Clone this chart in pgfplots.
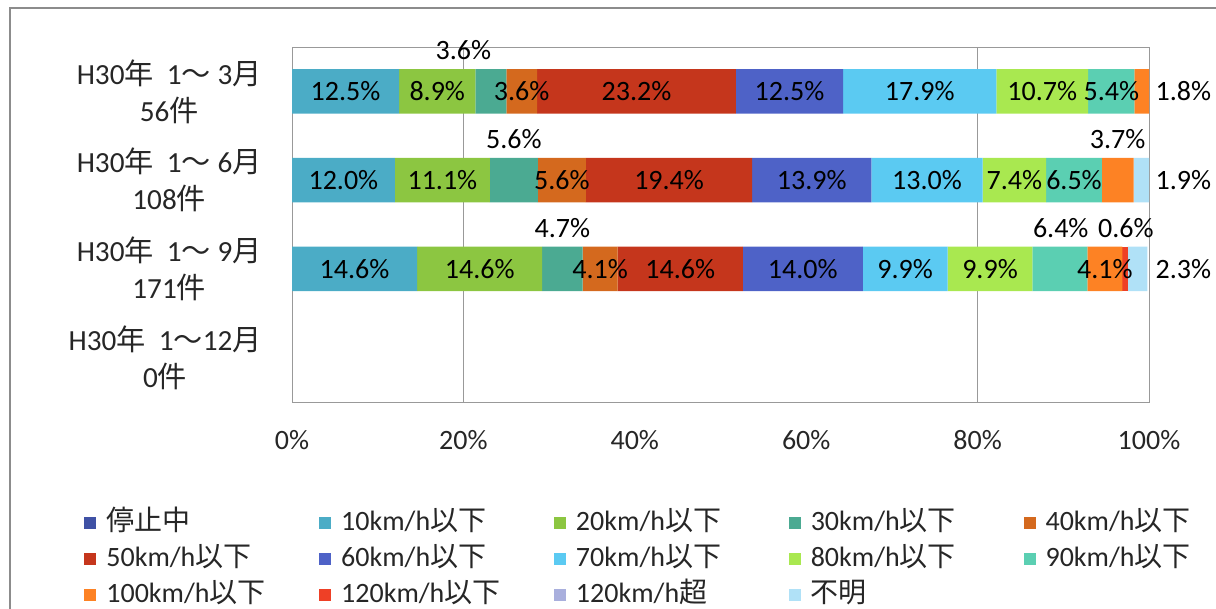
\documentclass[border=0pt]{standalone}
\usepackage{pgfplots}
\pgfplotsset{compat=1.18}
\usepackage{pgfplotstable}
\usepackage{fontspec}
\setmainfont{Carlito}
\newfontfamily\jp{Noto Sans CJK JP}
\newcommand\J[1]{{\jp #1}}

\definecolor{cA}{HTML}{3F51A5}
\definecolor{cB}{HTML}{4BACC6}
\definecolor{cC}{HTML}{8CC641}
\definecolor{cD}{HTML}{4BAA92}
\definecolor{cE}{HTML}{D4691E}
\definecolor{cF}{HTML}{C5361C}
\definecolor{cG}{HTML}{4E62C7}
\definecolor{cH}{HTML}{5BCAF2}
\definecolor{cI}{HTML}{A9E850}
\definecolor{cJ}{HTML}{5BCFB2}
\definecolor{cK}{HTML}{FD8224}
\definecolor{cL}{HTML}{EE4026}
\definecolor{cM}{HTML}{A9AFDD}
\definecolor{cN}{HTML}{B0E1F7}

\pgfplotsset{legsq/.style={legend image code/.code={\fill[#1] (0pt,-3pt) rectangle (6pt,3pt);}}}

% rows: y=3 -> 1-3月, y=2 -> 1-6月, y=1 -> 1-9月
\pgfplotstableread{
y s0 s1   s2   s3  s4  s5   s6   s7   s8   s9  s10 s11 s12 s13
3 0  12.5 8.9  3.6 3.6 23.2 12.5 17.9 10.7 5.4 1.8 0   0   0
2 0  12.0 11.1 5.6 5.6 19.4 13.9 13.0 7.4  6.5 3.7 0   0   1.9
1 0  14.6 14.6 4.7 4.1 14.6 14.0 9.9  9.9  6.4 4.1 0.6 0   2.3
}\bardata

\newcommand\LE[1]{\makebox[106.4pt][l]{#1}}

\begin{document}
\begin{tikzpicture}[font=\fontsize{14}{18.5}\selectfont]
\path[use as bounding box] (0,0) rectangle (608pt,304.5pt);
\draw[black!45, line width=0.75pt] (5pt,0) -- (5pt,300.5pt) -- (608pt,300.5pt);
\begin{axis}[
  at={(146pt,103.5pt)}, anchor=south west,
  scale only axis, width=428.5pt, height=177.5pt,
  xbar stacked, bar width=0.5,
  xmin=0, xmax=100, ymin=-0.5, ymax=3.5,
  axis line style={draw=black!40},
  xtick={0,20,40,60,80,100},
  xticklabels={0\%,20\%,40\%,60\%,80\%,100\%},
  extra x ticks={20,80}, extra x tick labels={},
  extra x tick style={grid=major, major grid style={draw=black!40}},
  ytick={0,1,2,3},
  yticklabels={
    {H30\J{年}\ \ 1\J{～}12\J{月}\\0\J{件}},
    {H30\J{年}\ \ 1\J{～}\ 9\J{月}\\171\J{件}},
    {H30\J{年}\ \ 1\J{～}\ 6\J{月}\\108\J{件}},
    {H30\J{年}\ \ 1\J{～}\ 3\J{月}\\56\J{件}}},
  major tick length=0pt,
  xticklabel style={anchor=base, inner sep=0pt, yshift=-24pt, text=black!85},
  yticklabel style={align=center, inner sep=0pt, xshift=-15pt, text=black!85,
    font=\fontsize{14.6}{18.5}\selectfont},
  legend columns=5, legend cell align=left,
  legend style={at={(-0.2427,-0.3042)}, anchor=north west, draw=none, fill=none,
    inner sep=0pt, row sep=5pt,
    /tikz/every odd column/.append style={column sep=5pt},
    nodes={inner sep=0pt, text height=10pt, text depth=3pt, text=black!85}},
]
\addplot[fill=cA, draw=none, legsq=cA] table[x=s0, y=y]{\bardata};
\addlegendentry{\LE{\J{停止中}}}
\addplot[fill=cB, draw=none, legsq=cB] table[x=s1, y=y]{\bardata};
\addlegendentry{\LE{10km/h\J{以下}}}
\addplot[fill=cC, draw=none, legsq=cC] table[x=s2, y=y]{\bardata};
\addlegendentry{\LE{20km/h\J{以下}}}
\addplot[fill=cD, draw=none, legsq=cD] table[x=s3, y=y]{\bardata};
\addlegendentry{\LE{30km/h\J{以下}}}
\addplot[fill=cE, draw=none, legsq=cE] table[x=s4, y=y]{\bardata};
\addlegendentry{\LE{40km/h\J{以下}}}
\addplot[fill=cF, draw=none, legsq=cF] table[x=s5, y=y]{\bardata};
\addlegendentry{\LE{50km/h\J{以下}}}
\addplot[fill=cG, draw=none, legsq=cG] table[x=s6, y=y]{\bardata};
\addlegendentry{\LE{60km/h\J{以下}}}
\addplot[fill=cH, draw=none, legsq=cH] table[x=s7, y=y]{\bardata};
\addlegendentry{\LE{70km/h\J{以下}}}
\addplot[fill=cI, draw=none, legsq=cI] table[x=s8, y=y]{\bardata};
\addlegendentry{\LE{80km/h\J{以下}}}
\addplot[fill=cJ, draw=none, legsq=cJ] table[x=s9, y=y]{\bardata};
\addlegendentry{\LE{90km/h\J{以下}}}
\addplot[fill=cK, draw=none, legsq=cK] table[x=s10, y=y]{\bardata};
\addlegendentry{\LE{100km/h\J{以下}}}
\addplot[fill=cL, draw=none, legsq=cL] table[x=s11, y=y]{\bardata};
\addlegendentry{\LE{120km/h\J{以下}}}
\addplot[fill=cM, draw=none, legsq=cM] table[x=s12, y=y]{\bardata};
\addlegendentry{\LE{120km/h\J{超}}}
\addplot[fill=cN, draw=none, legsq=cN] table[x=s13, y=y]{\bardata};
\addlegendentry{\LE{\J{不明}}}
\end{axis}
\begin{axis}[
  at={(146pt,103.5pt)}, anchor=south west,
  scale only axis, width=428.5pt, height=177.5pt,
  xmin=0, xmax=100, ymin=-0.5, ymax=3.5,
  hide axis, clip=false,
]
\addplot[draw=none, mark=none, nodes near coords, point meta=explicit symbolic,
  nodes near coords align=center,
  every node near coord/.append style={inner sep=0pt, text=black}]
coordinates {
 (6.25,3) [12.5\%] (16.95,3) [8.9\%] (20.0,3.466) [3.6\%] (26.8,3) [3.6\%]
 (40.2,3) [23.2\%] (58.05,3) [12.5\%] (73.25,3) [17.9\%] (87.55,3) [10.7\%]
 (95.6,3) [5.4\%] (104.0,3) [1.8\%]
 (6.0,2) [12.0\%] (17.55,2) [11.1\%] (25.9,2.463) [5.6\%] (31.5,2) [5.6\%]
 (44.0,2) [19.4\%] (60.65,2) [13.9\%] (74.1,2) [13.0\%] (84.3,2) [7.4\%]
 (91.25,2) [6.5\%] (96.35,2.463) [3.7\%] (104.0,2) [1.9\%]
 (7.3,1) [14.6\%] (21.9,1) [14.6\%] (31.55,1.46) [4.7\%] (35.95,1) [4.1\%]
 (45.3,1) [14.6\%] (59.6,1) [14.0\%] (71.55,1) [9.9\%] (81.45,1) [9.9\%]
 (89.7,1.46) [6.4\%] (94.85,1) [4.1\%] (97.3,1.46) [0.6\%] (104.0,1) [2.3\%]
};
\end{axis}
\end{tikzpicture}
\end{document}
